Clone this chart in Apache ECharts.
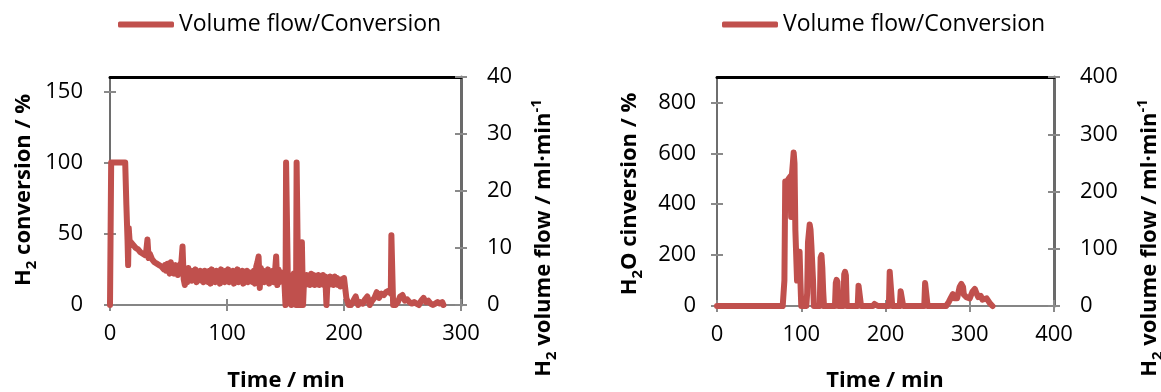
<!DOCTYPE html>
<html>
<head>
<meta charset="utf-8">
<script src="https://cdn.jsdelivr.net/npm/echarts@6/dist/echarts.min.js"></script>
<style>
  html, body { margin: 0; padding: 0; background: #ffffff; }
  #chart { width: 1161px; height: 392px; }
</style>
</head>
<body>
<div id="chart"></div>
<script>
// H2 run: time (min) and H2 conversion (%)
const h2Time = [
  0, 1, 13, 14, 15, 15.5, 16, 17, 18, 20, 22, 24, 26, 28, 30, 31, 32, 33, 34, 36,
  38, 40, 42, 44, 46, 47, 48, 49, 50, 51, 52, 53, 54, 55, 56, 57, 58, 59, 60, 61,
  62, 63, 64, 65, 66, 67, 68, 69, 70, 71, 72, 73, 74, 75, 76, 77, 78, 79, 80, 81,
  82, 83, 84, 85, 86, 87, 88, 89, 90, 91, 92, 93, 94, 95, 96, 97, 98, 99, 100, 101,
  102, 103, 104, 105, 106, 107, 108, 109, 110, 111, 112, 113, 114, 115, 116, 117, 118, 119, 120, 121,
  122, 123, 124, 125, 126, 127, 128, 129, 130, 131, 132, 133, 134, 135, 136, 137, 138, 139, 140, 141,
  142, 143, 144, 145, 146, 147, 148, 149, 150, 150.5, 151.5, 152, 153, 154, 155, 156, 157, 158, 159, 159.5,
  160.5, 161, 162, 163, 164, 165, 166, 167, 168, 169, 170, 171, 172, 173, 174, 175, 176, 177, 178, 179,
  180, 181, 182, 183, 184, 185, 186, 187, 188, 189, 190, 191, 192, 193, 194, 195, 196, 197, 198, 199,
  200, 201, 202, 204, 206, 208, 210, 212, 214, 216, 218, 220, 222, 224, 226, 228, 230, 232, 234, 236,
  238, 240, 240.5, 241.5, 242, 244, 246, 248, 250, 252, 254, 256, 258, 260, 262, 264, 266, 268, 270, 272,
  274, 276, 278, 280, 282, 284, 285
];
const h2Conversion = [
  0, 100, 100, 70, 45, 28, 54, 42, 44, 42, 40, 39, 37, 36, 35, 38, 46, 33, 36, 32,
  30, 29, 28, 27, 25, 28, 24, 29, 26, 22, 30, 23, 27, 22, 28, 26, 21, 27, 28, 30,
  41, 18, 14, 24, 16, 26, 18, 23, 17, 24, 19, 25, 16, 22, 18, 24, 17, 23, 16, 24,
  19, 22, 16, 24, 15, 25, 18, 22, 16, 24, 17, 23, 15, 25, 18, 22, 16, 24, 17, 25,
  16, 23, 18, 24, 15, 22, 17, 25, 16, 23, 18, 24, 15, 22, 17, 24, 16, 23, 18, 22,
  16, 24, 15, 27, 30, 34, 12, 26, 17, 24, 16, 23, 18, 25, 15, 22, 17, 24, 16, 23,
  34, 14, 25, 16, 23, 18, 22, 17, 0, 100, 100, 18, 21, 20, 0, 19, 22, 20, 0, 100,
  100, 0, 20, 0, 44, 0, 20, 14, 21, 15, 20, 14, 22, 15, 21, 14, 20, 15, 21, 14,
  20, 15, 21, 14, 20, 0, 19, 14, 20, 15, 19, 14, 20, 15, 19, 14, 18, 13, 18, 14,
  19, 12, 5, 0, 0, 3, 6, 0, 2, 1, 4, 6, 0, 3, 5, 9, 5, 8, 7, 9,
  10, 8, 49, 49, 0, 0, 2, 6, 7, 3, 4, 2, 1, 2, 1, 0, 3, 5, 2, 3,
  1, 0, 1, 2, 1, 2, 0
];

// H2O run: time (min) and H2O conversion (%)
const h2oTime = [
  0, 78, 80, 81, 83, 85, 87, 88, 89, 90, 91, 92, 93, 94, 95, 97, 98, 99, 100, 103,
  105, 106, 107, 108, 110, 111, 112, 113, 114, 115, 122, 123, 124, 125, 126, 127, 140, 141, 142, 143,
  144, 150, 151, 152, 153, 154, 167, 168, 169, 170, 171, 185, 187, 189, 191, 204, 205, 206, 207, 208,
  217, 218, 219, 220, 221, 246, 247, 248, 249, 250, 272, 275, 278, 280, 282, 285, 288, 290, 292, 293,
  294, 296, 298, 300, 303, 306, 308, 310, 312, 313, 315, 317, 320, 322, 324, 327
];
const h2oConversion = [
  0, 0, 100, 489, 480, 500, 509, 350, 520, 560, 603, 560, 300, 200, 100, 150, 213, 100, 0, 0,
  10, 0, 50, 250, 320, 300, 240, 233, 100, 0, 0, 190, 200, 150, 60, 0, 0, 90, 103, 95,
  0, 0, 125, 134, 120, 0, 0, 80, 83, 75, 0, 0, 8, 10, 0, 0, 135, 142, 135, 0,
  0, 58, 63, 55, 0, 0, 90, 95, 88, 0, 0, 15, 35, 47, 30, 30, 75, 87, 75, 45,
  40, 35, 30, 30, 55, 67, 50, 35, 40, 40, 25, 20, 30, 28, 10, 0
];

const seriesName = 'Volume flow/Conversion';
const h2ConvTicks = [0, 50, 100, 150];
const h2FlowTicks = [0, 10, 20, 30, 40];
const h2oConvTicks = [0, 200, 400, 600, 800];
const h2oFlowTicks = [0, 100, 200, 300, 400];
const h2TimeTicks = [0, 100, 200, 300];
const h2oTimeTicks = [0, 100, 200, 300, 400];

const FONT = 'Open Sans';
const RED = '#C0504D';
const AXIS_GREY = '#858585';
const TICK = { color: '#8a8a8a', width: 2 };

function pairs(xs, ys) {
  return xs.map((x, i) => [x, ys[i]]);
}

// three x axes per panel: labelled bottom, inner ticks, black top border
function xAxes(grid, ticks) {
  const min = ticks[0], max = ticks[ticks.length - 1], interval = ticks[1] - ticks[0];
  const base = { gridIndex: grid, type: 'value', min, max, interval, splitLine: { show: false } };
  return [
    Object.assign({}, base, {
      position: 'bottom',
      axisLine: { onZero: false, lineStyle: { color: AXIS_GREY, width: 2 } },
      axisTick: { length: 6, lineStyle: TICK },
      axisLabel: { fontFamily: FONT, fontSize: 22, color: '#000', margin: 18 }
    }),
    Object.assign({}, base, {
      position: 'bottom',
      axisLine: { show: false, onZero: false },
      axisTick: { inside: true, length: 6, lineStyle: TICK },
      axisLabel: { show: false }
    }),
    Object.assign({}, base, {
      position: 'top',
      axisLine: { onZero: false, lineStyle: { color: '#000', width: 3 } },
      axisTick: { show: false },
      axisLabel: { show: false }
    })
  ];
}

// four y axes per panel: conversion (left), its inner ticks, flow (right), its inner ticks
function yAxes(grid, convTicks, convMax, flowTicks, leftMargin, rightMargin) {
  const convInt = convTicks[1] - convTicks[0];
  const flowMax = flowTicks[flowTicks.length - 1];
  const flowInt = flowTicks[1] - flowTicks[0];
  const conv = { gridIndex: grid, type: 'value', min: 0, max: convMax, interval: convInt, splitLine: { show: false } };
  const flow = { gridIndex: grid, type: 'value', min: 0, max: flowMax, interval: flowInt, splitLine: { show: false } };
  return [
    Object.assign({}, conv, {
      position: 'left',
      axisLine: { show: true, onZero: false, lineStyle: { color: '#6e6e6e', width: 2 } },
      axisTick: { show: true, length: 6, lineStyle: TICK, customValues: convTicks },
      axisLabel: {
        fontFamily: FONT, fontSize: 22, color: '#000', margin: leftMargin,
        formatter: (v) => (convTicks.indexOf(v) >= 0 ? String(v) : '')
      }
    }),
    Object.assign({}, conv, {
      position: 'left',
      axisLine: { show: false, onZero: false },
      axisTick: { show: true, inside: true, length: 6, lineStyle: TICK, customValues: convTicks },
      axisLabel: { show: false }
    }),
    Object.assign({}, flow, {
      position: 'right',
      axisLine: { show: true, onZero: false, lineStyle: { color: '#6a6a6a', width: 3 } },
      axisTick: { show: true, length: 6, lineStyle: TICK },
      axisLabel: { fontFamily: FONT, fontSize: 22, color: '#000', margin: rightMargin }
    }),
    Object.assign({}, flow, {
      position: 'right',
      axisLine: { show: false, onZero: false },
      axisTick: { show: true, inside: true, length: 6, lineStyle: TICK },
      axisLabel: { show: false }
    })
  ];
}

const titleRich = {
  b: { fontFamily: FONT, fontSize: 22, fontWeight: 'bold', color: '#000', lineHeight: 30 },
  sub: { fontFamily: FONT, fontSize: 15, fontWeight: 'bold', color: '#000', lineHeight: 30, verticalAlign: 'bottom' },
  sup: { fontFamily: FONT, fontSize: 15, fontWeight: 'bold', color: '#000', lineHeight: 30, verticalAlign: 'top' }
};

function title(x, y, text, rotated) {
  return {
    type: 'text', x, y, rotation: rotated ? Math.PI / 2 : 0,
    style: { text, rich: titleRich, align: 'center', verticalAlign: 'middle' }
  };
}

const lineSeries = (x, y, data) => ({
  name: seriesName, type: 'line', xAxisIndex: x, yAxisIndex: y,
  data, showSymbol: false, symbol: 'none', clip: false,
  lineStyle: { color: RED, width: 6, cap: 'round', join: 'round' },
  itemStyle: { color: RED }
});

const legendBase = {
  data: [seriesName], top: 13, padding: 0, itemWidth: 56, itemHeight: 6, icon: 'roundRect',
  textStyle: { fontFamily: FONT, fontSize: 23, color: '#000' }, selectedMode: false
};

const chart = echarts.init(document.getElementById('chart'), null, { renderer: 'canvas' });
chart.setOption({
  backgroundColor: '#ffffff',
  animation: false,
  legend: [
    Object.assign({}, legendBase, { left: 118 }),
    Object.assign({}, legendBase, { left: 722 })
  ],
  grid: [
    { left: 110, right: 700, top: 77, bottom: 87 },
    { left: 717, right: 107, top: 77, bottom: 86 }
  ],
  xAxis: [].concat(xAxes(0, h2TimeTicks), xAxes(1, h2oTimeTicks)),
  yAxis: [].concat(
    yAxes(0, h2ConvTicks, 160, h2FlowTicks, 27, 26),
    yAxes(1, h2oConvTicks, 900, h2oFlowTicks, 21, 26)
  ),
  series: [
    lineSeries(0, 0, pairs(h2Time, h2Conversion)),
    lineSeries(3, 4, pairs(h2oTime, h2oConversion))
  ],
  graphic: [
    title(286, 381, '{b|Time / min}', false),
    title(885, 381, '{b|Time / min}', false),
    title(24, 190, '{b|H}{sub|2}{b| conversion / %}', true),
    title(544, 238, '{b|H}{sub|2}{b| volume flow / ml·min}{sup|-1}', true),
    title(630, 194, '{b|H}{sub|2}{b|O cinversion / %}', true),
    title(1150, 238, '{b|H}{sub|2}{b| volume flow / ml·min}{sup|-1}', true)
  ]
});
</script>
</body>
</html>
